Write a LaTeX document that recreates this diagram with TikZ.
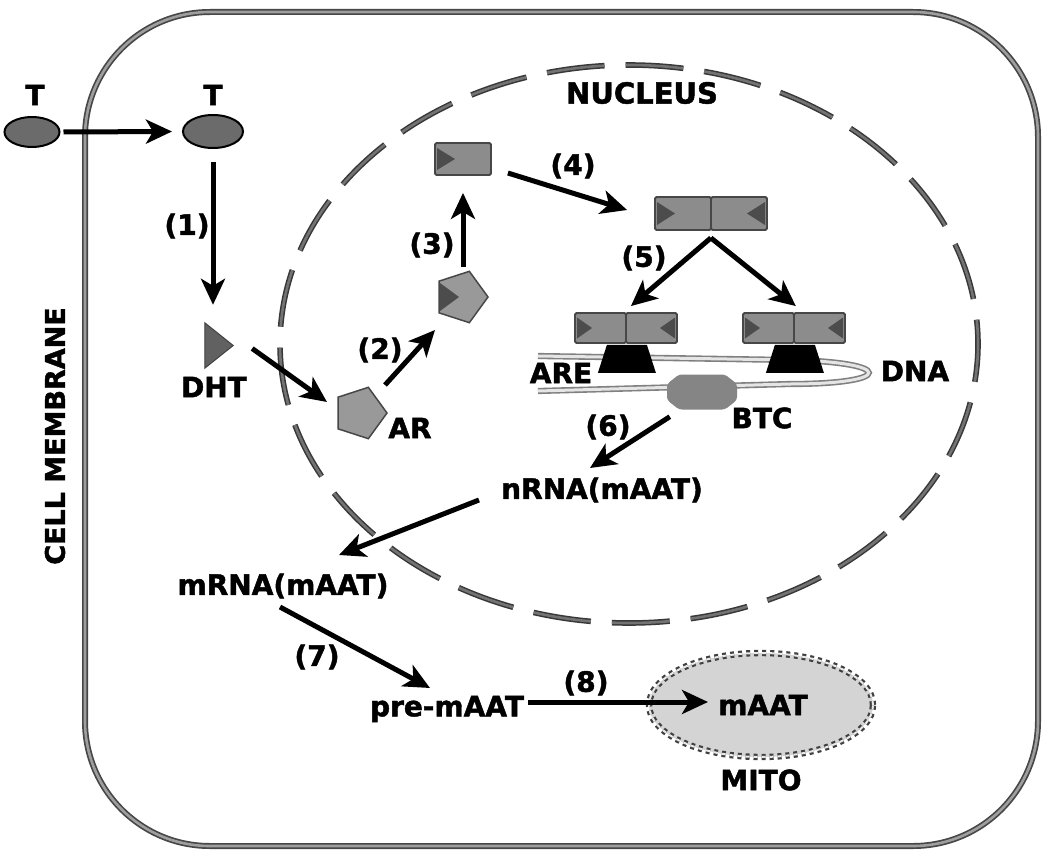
\documentclass[tikz,border=0pt]{standalone}
\usepackage{fontspec}
\setmainfont{DejaVu Sans}[BoldFeatures={FakeBold=1.6}]
\usetikzlibrary{arrows.meta,shapes.geometric,calc}
\begin{document}
\begin{tikzpicture}[x=1pt,y=-1pt,
  lbl/.style={inner sep=0pt, font=\fontsize{28}{32}\selectfont\bfseries},
  arr/.style={line width=5pt, -{Stealth[length=26pt,width=24pt,inset=7pt]}},
  tball/.style={ellipse, draw=black, line width=2pt, fill=black!58, inner sep=0pt},
  recbox/.style={draw=black!72, fill=black!45, line width=1.8pt, inner sep=0pt, rounded corners=1.5pt},
  tri/.style={fill=black!70},
  pent/.style={regular polygon, regular polygon sides=5, shape border rotate=-90, draw=black!72, fill=black!40, line width=1.5pt, inner sep=0pt, minimum size=54pt},
  membrane/.style={draw=black!72, line width=1.7pt, double=black!38, double distance=2.6pt},
  nucline/.style={draw=black!78, line width=1.5pt, double=black!55, double distance=2.6pt, dash pattern=on 58pt off 21pt, dash phase=20pt},
  strand/.style={draw=black!50, line width=1.6pt, double=black!10, double distance=3pt},
  hole/.style={inner sep=0pt}
]
\useasboundingbox (0,0) rectangle (1050,859);
\fill[white] (0,0) rectangle (1050,859);

% cell membrane
\draw[membrane, rounded corners=125pt] (85,12) rectangle (1038,846);
% nucleus
\draw[nucline] (629,344) ellipse [x radius=349, y radius=279];

% DNA hairpin
\node[hole, minimum width=1pt, minimum height=1pt] (dnastart) at (538,356) {};
\draw[strand] (dnastart.center) -- (790,360) .. controls (895,362) and (895,384) .. (790,384) -- (538,391);

% BTC
\node[hole, minimum width=70pt, minimum height=35pt] (btc) at (702,392) {};
\begin{scope}[shift={(btc.center)}]
  \fill[black!48, rounded corners=3pt] (-35,-8) -- (-23,-17.5) -- (23,-17.5) -- (35,-8) -- (35,8) -- (23,17.5) -- (-23,17.5) -- (-35,8) -- cycle;
\end{scope}

% T molecules
\node[tball, minimum width=55pt, minimum height=30pt] (Tout) at (32,132) {};
\node[tball, minimum width=60pt, minimum height=33pt] (Tin) at (213,131.5) {};
\node[lbl] (tlo) at (35,95) {T};
\node[lbl] (tli) at (213,95) {T};

% DHT
\node[hole, minimum width=28pt, minimum height=45pt] (dht) at (219,345.5) {};
\fill[black!62, draw=black!75, line width=1pt] (dht.north west) -- (dht.east) -- (dht.south west) -- cycle;

% AR and AR+DHT
\node[pent] (ar) at (360,413) {};
\node[pent] (ard) at (461,297) {};
\begin{scope}[shift={(ard.center)}]
  \fill[tri] (-21,-14) -- (-21,14) -- (-2,0) -- cycle;
\end{scope}

% receptor with DHT
\node[recbox, minimum width=56pt, minimum height=32pt] (rec) at (463,159) {};
\begin{scope}[shift={(rec.center)}]
  \fill[tri] (-26,-11) -- (-26,11) -- (-8,0) -- cycle;
\end{scope}

% dimer
\node[recbox, minimum width=56pt, minimum height=33pt] (dimL) at (683,213.5) {};
\node[recbox, minimum width=56pt, minimum height=33pt] (dimR) at (739,213.5) {};
\begin{scope}[shift={(dimL.center)}]
  \fill[tri] (-26,-11.5) -- (-26,11.5) -- (-8,0) -- cycle;
\end{scope}
\begin{scope}[shift={(dimR.center)}]
  \fill[tri] (26,-11.5) -- (26,11.5) -- (8,0) -- cycle;
\end{scope}

% DNA-bound dimers
\node[recbox, minimum width=51pt, minimum height=30pt] (dnaL1) at (600.5,328) {};
\node[recbox, minimum width=51pt, minimum height=30pt] (dnaL2) at (651.5,328) {};
\node[recbox, minimum width=51pt, minimum height=30pt] (dnaR1) at (768.5,328) {};
\node[recbox, minimum width=51pt, minimum height=30pt] (dnaR2) at (819.5,328) {};
\foreach \n in {dnaL1,dnaR1}{
  \begin{scope}[shift={(\n.center)}]
    \fill[tri] (-23.5,-10.5) -- (-23.5,10.5) -- (-8.5,0) -- cycle;
  \end{scope}
}
\foreach \n in {dnaL2,dnaR2}{
  \begin{scope}[shift={(\n.center)}]
    \fill[tri] (23.5,-10.5) -- (23.5,10.5) -- (8.5,0) -- cycle;
  \end{scope}
}
\foreach \n in {dnaL1,dnaR1}{
  \begin{scope}[shift={(\n.south east)}]
    \fill[black] (-20,1) -- (20,1) -- (29,29) -- (-29,29) -- cycle;
  \end{scope}
}

% mitochondrion
\node[ellipse, minimum width=224pt, minimum height=104pt, inner sep=0pt, fill=black!17, draw=black!75, line width=2.2pt, double=black!8, double distance=2pt, dash pattern=on 4pt off 4pt] (mito) at (761,705) {};

% labels
\node[lbl] (l1) at (187,226) {(1)};
\node[lbl] (ldht) at (214,387) {DHT};
\node[lbl] (lar) at (410,428) {AR};
\node[lbl] (l2) at (380,350) {(2)};
\node[lbl] (l3) at (432,245) {(3)};
\node[lbl] (l4) at (573,166) {(4)};
\node[lbl] (l5) at (644,258) {(5)};
\node[lbl] (lare) at (561,373) {ARE};
\node[lbl] (ldna) at (915,371) {DNA};
\node[lbl] (lbtc) at (762,418) {BTC};
\node[lbl] (l6) at (608,427) {(6)};
\node[lbl] (nrna) at (602,490) {nRNA(mAAT)};
\node[lbl] (mrna) at (283,586) {mRNA(mAAT)};
\node[lbl] (l7) at (317,657) {(7)};
\node[lbl] (pre) at (447,709) {pre-mAAT};
\node[lbl] (l8) at (586,683) {(8)};
\node[lbl] (maat) at (763,705) {mAAT};
\node[lbl] (lmito) at (761,780) {MITO};
\node[lbl, font=\fontsize{29}{32}\selectfont\bfseries] (lnuc) at (642,93) {NUCLEUS};
\node[lbl, font=\fontsize{27}{30}\selectfont\bfseries, rotate=90] (lcell) at (55,436) {CELL MEMBRANE};

% arrows
\draw[arr] ($(Tout.east)+(3,0)$) -- ($(Tin.west)+(-10,0)$);
\draw[arr] ($(Tin.south)+(0,13)$) -- ($(Tin.south |- dht.north)+(0,-18)$);
\draw[arr] ($(dht.east)+(19,3)$) -- ($(ar.center)+(-33,-11)$);
\draw[arr] ($(ar.center)+(25,-28)$) -- ($(ard.center)+(-26,33)$);
\draw[arr] ($(ard.center)+(2,-30)$) -- ($(rec.south)+(0,17)$);
\draw[arr] ($(rec.east)+(16,14)$) -- ($(dimL.west)+(-27,-3.5)$);
\draw[arr] ($(dimL.south east)+(-1,7)$) -- ($(dnaL1.north east)+(4,-6)$);
\draw[arr] ($(dimL.south east)+(-1,7)$) -- ($(dnaR1.north east)+(1,-6)$);
\draw[arr] ($(btc.south west)+(3,7)$) -- ($(nrna.center)+(-12,-22)$);
\draw[arr] ($(nrna.center)+(-123,10)$) -- ($(mrna.center)+(56,-31)$);
\draw[arr] ($(mrna.center)+(-3,21)$) -- ($(pre.center)+(-17,-21)$);
\draw[arr] ($(pre.center)+(81,-7)$) -- ($(maat.center)+(-55,-3)$);
\end{tikzpicture}
\end{document}
